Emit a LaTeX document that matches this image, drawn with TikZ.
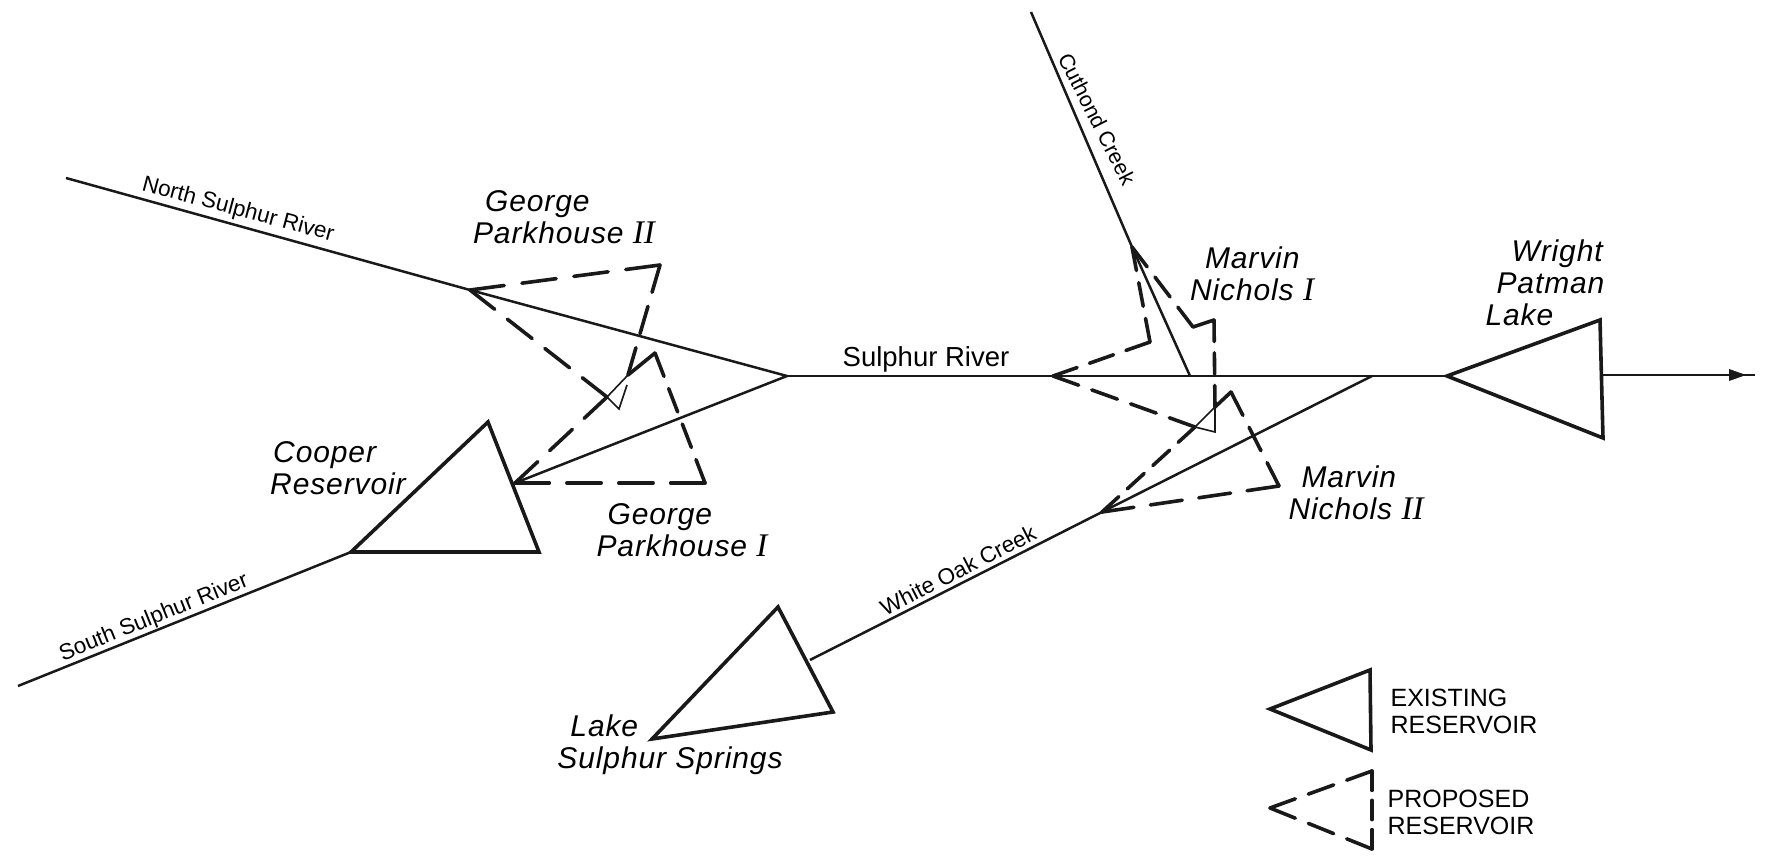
\documentclass[tikz,border=0pt]{standalone}
\usepackage{fontspec}
\usetikzlibrary{calc}
\setmainfont{Liberation Sans}
\newfontfamily\itf[LetterSpace=3]{Liberation Sans Italic}
\newfontfamily\romf{Liberation Serif Italic}
\newcommand\romn[1]{{\fontsize{33}{32}\selectfont\romf #1}}
% a dashed edge of #3 dashes which begins and ends with a dash
\newcommand\dedge[3]{\foreach \i in {1,...,#3}{\draw[propl] ($(#1)!{(\i-1)/(#3-0.34)}!(#2)$) -- ($(#1)!{(\i-0.34)/(#3-0.34)}!(#2)$);}}
\begin{document}
\begin{tikzpicture}[x=1pt,y=-1pt,line join=miter,
  river/.style={line width=2.5pt,black!90},
  heavy/.style={line width=3.6pt,black!90},
  propl/.style={line width=3.6pt,black!90,line cap=round},
  thinl/.style={line width=1.6pt,black!90},
  lbl/.style={font=\fontsize{30}{32}\selectfont\itf,align=left,inner sep=0pt},
  rlbl/.style={font=\fontsize{22.5}{24}\selectfont,inner sep=0pt},
  lgd/.style={font=\fontsize{25}{27}\selectfont,align=left,inner sep=0pt}]
\useasboundingbox (0,0) rectangle (1765,864);
% points
\coordinate (ns) at (66,178);
\coordinate (gA) at (470,290);
\coordinate (j) at (787,376);
\coordinate (gB) at (660,265);
\coordinate (gC) at (619,409);
\coordinate (gD) at (607,397);
\coordinate (gE) at (627,385);
\coordinate (gF) at (628,375);
\coordinate (hA) at (515,483);
\coordinate (hB) at (655,353);
\coordinate (hC) at (705,483);
\coordinate (cT) at (488,422);
\coordinate (cL) at (351,552);
\coordinate (cR) at (539,552);
\coordinate (ss) at (18,686);
\coordinate (cu) at (1031,12);
\coordinate (mA) at (1132,247);
\coordinate (mR) at (1190,376);
\coordinate (mL) at (1053,376);
\coordinate (mK) at (1150,342);
\coordinate (mS) at (1193,327);
\coordinate (mT) at (1214,320);
\coordinate (mC) at (1215,432);
\coordinate (mD) at (1195,427);
\coordinate (mE) at (1215,407);
\coordinate (nA) at (1102,512);
\coordinate (nB) at (1231,392);
\coordinate (nC) at (1279,486);
\coordinate (wj) at (1372,376);
\coordinate (lT) at (778,607);
\coordinate (lR) at (833,712);
\coordinate (lL) at (652,739);
\coordinate (lm) at (810,660);
\coordinate (wA) at (1447,376);
\coordinate (wT) at (1600,320);
\coordinate (wB) at (1603,438);
\coordinate (wm) at (1601,375);
\coordinate (out) at (1755,375);
\coordinate (t1) at (1729,369);
\coordinate (t2) at (1746,375);
\coordinate (t3) at (1729,381);
\coordinate (eA) at (1270,709);
\coordinate (eB) at (1370,670);
\coordinate (eC) at (1371,750);
\coordinate (pA) at (1270,808);
\coordinate (pB) at (1372,771);
\coordinate (pC) at (1372,849);
% rivers
\draw[river] (ns) -- (gA) -- (j) -- (hA);
\draw[river] (j) -- (wA);
\draw[river] (ss) -- (cL);
\draw[river] (cu) -- (mA) -- (mR);
\draw[river] (wj) -- (nA) -- (lm);
\draw[river] (wm) -- (out);
\fill[black!90] (t1) -- (t2) -- (t3) -- cycle;
% existing reservoirs
\draw[heavy] (cT) -- (cL) -- (cR) -- cycle;
\draw[heavy] (lT) -- (lR) -- (lL) -- cycle;
\draw[heavy] (wA) -- (wT) -- (wB) -- cycle;
\draw[heavy] (eA) -- (eB) -- (eC) -- cycle;
% George Parkhouse II
\dedge{gA}{gB}{4}
\dedge{gB}{gF}{3}
\dedge{gA}{gD}{4}
\draw[thinl] (gD) -- (gC) -- (gE);
% George Parkhouse I
\dedge{hA}{gD}{3}
\draw[thinl] (gD) -- (gF);
\dedge{gF}{hB}{1}
\dedge{hB}{hC}{4}
\dedge{hC}{hA}{4}
% Marvin Nichols I
\dedge{mA}{mK}{3}
\dedge{mK}{mL}{3}
\dedge{mA}{mS}{3}
\dedge{mS}{mT}{1}
\dedge{mT}{mE}{3}
\dedge{mL}{mD}{4}
\draw[thinl] (mD) -- (mC) -- (mE);
% Marvin Nichols II
\dedge{nA}{mD}{4}
\draw[thinl] (mD) -- (mE);
\dedge{mE}{nB}{1}
\dedge{nB}{nC}{3}
\dedge{nC}{nA}{4}
% legend dashed
\dedge{pA}{pB}{3}
\dedge{pA}{pC}{3}
\dedge{pB}{pC}{3}
% labels
\node[lbl] (gp2) at (564,217) {\hspace{12pt}George\\Parkhouse \romn{II}};
\node[lbl] (gp1) at (682,530) {\hspace{11pt}George\\Parkhouse \romn{I}};
\node[lbl] (cr) at (338,468) {\hspace{3pt}Cooper\\Reservoir};
\node[lbl] (mn1) at (1252,274) {\hspace{15pt}Marvin\\Nichols \romn{I}};
\node[lbl] (mn2) at (1356,493) {\hspace{13pt}Marvin\\Nichols \romn{II}};
\node[lbl] (wp) at (1545,283) {\hspace{26pt}Wright\\\hspace{11pt}Patman\\Lake};
\node[lbl] (ls) at (670,745) {\hspace{13pt}Lake\\Sulphur Springs};
\node[font=\fontsize{27.5}{29}\selectfont,inner sep=0pt] (sr) at (926,359) {Sulphur River};
\node[rlbl,rotate=-15] (nsr) at (238,210) {North Sulphur River};
\node[rlbl,rotate=22] (ssr) at (154,618) {South Sulphur River};
\node[rlbl,rotate=27] (wo) at (958,570) {White Oak Creek};
\node[rlbl,rotate=-63,font=\fontsize{21.5}{24}\selectfont] (cc) at (1097,119) {Cuthond Creek};
\node[lgd] (le) at (1464,711) {EXISTING\\RESERVOIR};
\node[lgd] (lp) at (1461,812) {PROPOSED\\RESERVOIR};
\end{tikzpicture}
\end{document}
